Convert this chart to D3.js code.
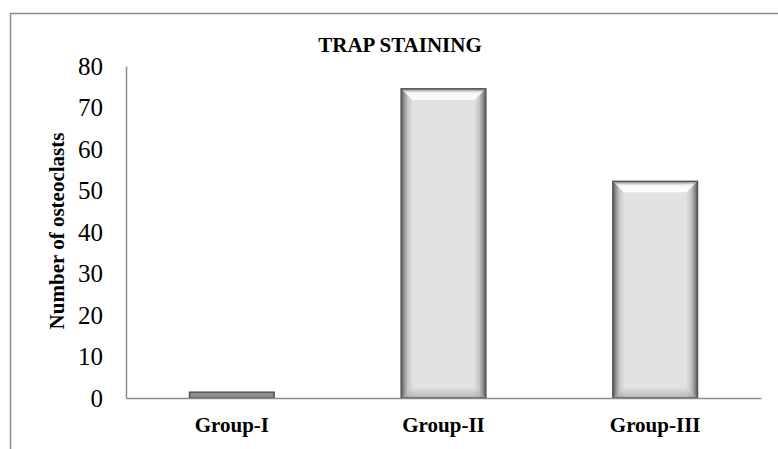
<!DOCTYPE html>
<html><head><meta charset="utf-8">
<script src="https://cdn.jsdelivr.net/npm/d3@7"></script>
<style>body{margin:0;background:#fff}svg{display:block}</style>
</head><body>
<script>
const categories = ["Group-I", "Group-II", "Group-III"];
const values = [1.4, 74.5, 52.2];
const yTicks = [0, 10, 20, 30, 40, 50, 60, 70, 80];
const chartTitle = "TRAP STAINING";
const yTitle = "Number of osteoclasts";

const W = 778, H = 449;
const FONT = "'Liberation Serif', 'Times New Roman', serif";
const svg = d3.select("body").append("svg").attr("width", W).attr("height", H);

const defs = svg.append("defs");
const g1 = defs.append("linearGradient").attr("id", "hgrad").attr("x1", 0).attr("x2", 1).attr("y1", 0).attr("y2", 0);
[[0, "#5a5a5a"], [0.03, "#8a8a8a"], [0.08, "#c8c8c8"], [0.14, "#e2e2e2"], [0.86, "#e2e2e2"], [0.92, "#c8c8c8"], [0.97, "#8a8a8a"], [1, "#5a5a5a"]]
  .forEach(([o, c]) => g1.append("stop").attr("offset", o).attr("stop-color", c));
const g2 = defs.append("linearGradient").attr("id", "tgrad").attr("x1", 0).attr("x2", 0).attr("y1", 0).attr("y2", 1);
[[0, "#8a8a8a"], [0.35, "#f4f4f4"], [1, "#ffffff"]].forEach(([o, c]) => g2.append("stop").attr("offset", o).attr("stop-color", c));
const g3 = defs.append("linearGradient").attr("id", "bgrad").attr("x1", 0).attr("x2", 0).attr("y1", 0).attr("y2", 1);
[[0, "#e2e2e2"], [1, "#9a9a9a"]].forEach(([o, c]) => g3.append("stop").attr("offset", o).attr("stop-color", c));

// outer frame (top and left edges)
svg.append("path").attr("d", `M10.5,${H} V13.5 H${W}`).attr("fill", "none").attr("stroke", "#8c8c8c").attr("stroke-width", 1.5);

const mLeft = 126, mRight = 761, mTop = 66, mBottom = 398;
const x = d3.scaleBand().domain(categories).range([mLeft, mRight]).paddingInner(0.6).paddingOuter(0.3);
const y = d3.scaleLinear().domain([0, 80]).range([mBottom, mTop]);

// y axis
const yAxis = svg.append("g").attr("transform", `translate(${mLeft},0)`)
  .call(d3.axisLeft(y).tickValues(yTicks).tickSize(0).tickPadding(23));
yAxis.select(".domain").attr("stroke", "#8c8c8c").attr("stroke-width", 1.5);
yAxis.selectAll("text").attr("font-family", FONT).attr("font-size", 25).attr("fill", "#000");

// bars
const bars = svg.append("g").selectAll("g").data(categories).join("g");
bars.each(function (c, i) {
  const gb = d3.select(this);
  const x0 = x(c), w = x.bandwidth(), y0 = y(values[i]), h = mBottom - y0;
  if (h < 15) {
    gb.append("rect").attr("x", x0).attr("y", y0).attr("width", w).attr("height", h)
      .attr("fill", "#8e8e8e").attr("stroke", "#555").attr("stroke-width", 1.5);
    return;
  }
  gb.append("rect").attr("x", x0).attr("y", y0).attr("width", w).attr("height", h).attr("fill", "url(#hgrad)");
  const b = 11;
  gb.append("path").attr("d", `M${x0},${y0} H${x0 + w} L${x0 + w - b},${y0 + b} H${x0 + b} Z`).attr("fill", "url(#tgrad)");
  gb.append("path").attr("d", `M${x0},${mBottom} H${x0 + w} L${x0 + w - b},${mBottom - b} H${x0 + b} Z`).attr("fill", "url(#bgrad)").attr("opacity", 0.6);
  gb.append("rect").attr("x", x0).attr("y", y0).attr("width", w).attr("height", h)
    .attr("fill", "none").attr("stroke", "#555").attr("stroke-width", 1.5);
});

// x axis
const xAxis = svg.append("g").attr("transform", `translate(0,${mBottom})`)
  .call(d3.axisBottom(x).tickSize(0).tickPadding(19));
xAxis.select(".domain").attr("stroke", "#8c8c8c").attr("stroke-width", 1.5);
xAxis.selectAll("text").attr("font-family", FONT).attr("font-size", 21)
  .attr("font-weight", "bold").attr("fill", "#000");

// titles
svg.append("text").attr("x", 400).attr("y", 52).attr("text-anchor", "middle")
  .attr("font-family", FONT).attr("font-size", 21).attr("font-weight", "bold")
  .text(chartTitle);
svg.append("text").attr("transform", `translate(64,231) rotate(-90)`).attr("text-anchor", "middle")
  .attr("font-family", FONT).attr("font-size", 21).attr("font-weight", "bold")
  .text(yTitle);
</script>
</body></html>
